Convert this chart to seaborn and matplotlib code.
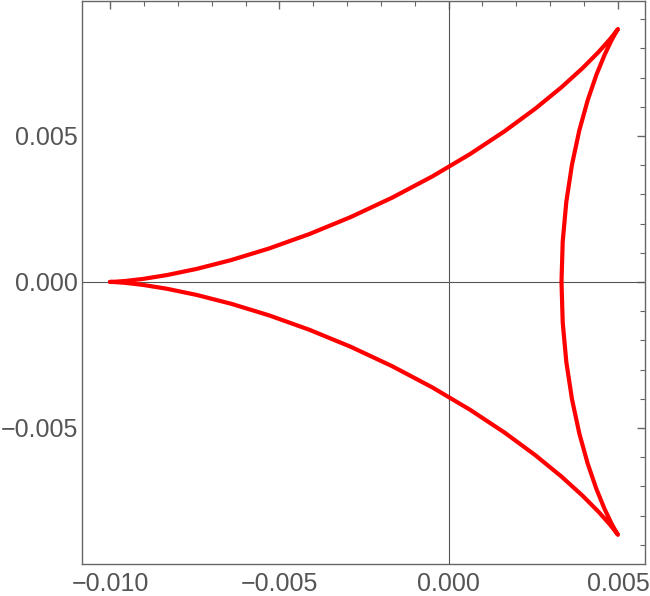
import numpy as np
import pandas as pd
import seaborn as sns
import matplotlib.pyplot as plt
from matplotlib.ticker import MultipleLocator

# upper half of the three-cusped curve, in units of 1e-3
x_upper = [-10.0, -9.8906, -9.5662, -9.0371, -8.3207, -7.4402, -6.4236, -5.3027,
           -4.1125, -2.8885, -1.6667, -0.4812, 0.6366, 1.6591, 2.5636, 3.3333,
           3.9574, 4.4313, 4.7568, 4.9420, 5.0, 4.9487, 4.8093, 4.6059, 4.3634,
           4.1068, 3.8599, 3.6437, 3.4758, 3.3696, 3.3333]
y_upper = [0.0, 0.00384, 0.03027, 0.10083, 0.2345, 0.4465, 0.7484, 1.1458,
           1.6392, 2.2233, 2.8868, 3.6132, 4.3811, 5.1652, 5.9371, 6.6667,
           7.3231, 7.8768, 8.2997, 8.5674, 8.6603, 8.5637, 8.2694, 7.7760, 7.0888,
           6.2201, 5.1887, 4.0194, 2.7419, 1.3899, 0.0]

xs = np.array(x_upper + x_upper[::-1][1:]) * 1e-3
ys = np.array(y_upper + [-v for v in y_upper[::-1][1:]]) * 1e-3
df = pd.DataFrame({"x": xs, "y": ys})

sns.set_style("white")
plt.rcParams['font.family'] = ['Liberation Sans', 'DejaVu Sans']

fig = plt.figure(figsize=(6.5, 5.96), dpi=100)
ax = fig.add_axes([82 / 650, 32 / 596, 563 / 650, 563 / 596])

ax.axhline(0, color='#555555', lw=0.8, zorder=1)
ax.axvline(0, color='#555555', lw=0.8, zorder=1)
sns.lineplot(data=df, x="x", y="y", sort=False, estimator=None, color='red', lw=3,
             ax=ax, zorder=3, solid_joinstyle='round')

ax.set_xlim(-0.01083, 0.0058)
ax.set_ylim(-0.00966, 0.00962)
ax.xaxis.set_major_locator(MultipleLocator(0.005))
ax.xaxis.set_minor_locator(MultipleLocator(0.001))
ax.yaxis.set_major_locator(MultipleLocator(0.005))
ax.yaxis.set_minor_locator(MultipleLocator(0.001))
fmt = lambda v, p: f"{v:.3f}".replace('-', '\u2212') if abs(v) > 1e-9 else "0.000"
ax.xaxis.set_major_formatter(fmt)
ax.yaxis.set_major_formatter(fmt)
ax.set_xlabel("")
ax.set_ylabel("")

ax.tick_params(which='both', direction='in', color='#666666', top=True, right=True,
               labeltop=False, labelright=False)
ax.tick_params(which='major', length=6, width=1, labelsize=18, labelcolor='#555555')
ax.tick_params(which='minor', length=3.5, width=0.8)
ax.tick_params(axis='x', pad=6)
ax.tick_params(axis='y', pad=3)
for s in ax.spines.values():
    s.set_color('#666666')
    s.set_linewidth(1)

fig.savefig("out.png", dpi=100)
